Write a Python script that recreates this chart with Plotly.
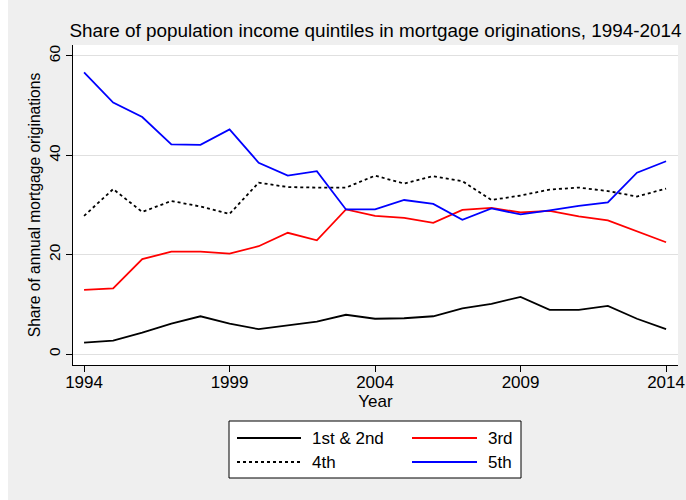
import plotly.graph_objects as go

years = list(range(1994, 2015))
q12 = [2.3, 2.7, 4.3, 6.1, 7.6, 6.1, 5.0, 5.8, 6.5, 7.9, 7.1, 7.2, 7.6, 9.2, 10.1, 11.5, 8.9, 8.9, 9.7, 7.1, 5.0]
q3 = [12.9, 13.2, 19.1, 20.6, 20.6, 20.2, 21.7, 24.4, 22.9, 29.1, 27.8, 27.4, 26.4, 29.0, 29.4, 28.5, 28.8, 27.7, 26.9, 24.7, 22.5]
q4 = [27.8, 33.2, 28.6, 30.8, 29.7, 28.2, 34.5, 33.6, 33.5, 33.5, 35.9, 34.3, 35.8, 34.8, 31.0, 31.9, 33.1, 33.5, 32.8, 31.7, 33.3]
q5 = [56.7, 50.6, 47.7, 42.2, 42.1, 45.2, 38.5, 35.9, 36.8, 29.1, 29.1, 31.0, 30.2, 27.0, 29.3, 28.1, 28.9, 29.8, 30.5, 36.5, 38.8]
x_ticks = [1994, 1999, 2004, 2009, 2014]
y_ticks = [0, 20, 40, 60]
names = ["1st & 2nd", "3rd", "4th", "5th"]

FONT = "Liberation Sans, Arial, sans-serif"
OFFX, OFFY = 8, 0  # page body margin (set below) offsets the figure
W, H = 686 - OFFX, 500 - OFFY
L, R, T, B = 73 - OFFX, 8, 45 - OFFY, 135
PW, PH = W - L - R, H - T - B

series = [(q12, "black", "solid"), (q3, "#FF0000", "solid"), (q4, "black", "dot"), (q5, "#0000FF", "solid")]

fig = go.Figure()
for (vals, col, dash), nm in zip(series, names):
    fig.add_trace(go.Scatter(x=years, y=vals, mode="lines", name=nm, showlegend=False,
                             line=dict(color=col, width=1.8, dash=dash)))

def px2paper(px, py):
    # px, py in window pixels
    return (px - OFFX - L) / PW, (H - B - (py - OFFY)) / PH

shapes = []
annotations = []
# legend box
x0, y0 = px2paper(229, 421)
x1, y1 = px2paper(521, 478)
shapes.append(dict(type="rect", xref="paper", yref="paper", x0=x0, y0=y0, x1=x1, y1=y1,
                   line=dict(color="black", width=1), fillcolor="white", layer="above"))
legend_pos = [(237, 301, 311, 438), (412, 477, 487, 438), (237, 301, 311, 462), (412, 477, 487, 462)]
for (sx0, sx1, tx, ty), (vals, col, dash), nm in zip(legend_pos, series, names):
    a0, b0 = px2paper(sx0, ty)
    a1, _ = px2paper(sx1, ty)
    shapes.append(dict(type="line", xref="paper", yref="paper", x0=a0, y0=b0, x1=a1, y1=b0,
                       line=dict(color=col, width=1.8, dash=dash), layer="above"))
    ta, tb = px2paper(tx, ty)
    annotations.append(dict(xref="paper", yref="paper", x=ta, y=tb, text=nm, showarrow=False,
                            xanchor="left", yanchor="middle", xshift=-1,
                            font=dict(size=17, color="black", family=FONT)))

fig.update_layout(
    template="none",
    width=W, height=H,
    margin=dict(l=L, r=R, t=T, b=B, pad=0),
    paper_bgcolor="#EFEFEF", plot_bgcolor="white",
    font=dict(family=FONT, size=16, color="black"),
    title=dict(text="Share of population income quintiles in mortgage originations, 1994-2014",
               x=0.5, xref="paper", y=1 - (30 - OFFY) / H, yref="container", yanchor="middle", xanchor="center",
               font=dict(size=18.9, color="black", family=FONT)),
    xaxis=dict(range=[1993.62, 2014.41], tickvals=x_ticks, ticks="outside", ticklen=6, tickcolor="black",
               tickwidth=1, showline=True, linecolor="black", linewidth=1, showgrid=False, zeroline=False,
               automargin=False, ticklabelstandoff=-4,
               title=dict(text="Year", standoff=1, font=dict(size=17)), tickfont=dict(size=17)),
    yaxis=dict(range=[-2.21, 62.2], tickvals=y_ticks, ticks="outside", ticklen=6, tickcolor="black",
               tickwidth=1, tickangle=-90, showline=True, linecolor="black", linewidth=1, showgrid=True,
               gridcolor="#E0E0E0", gridwidth=1, zeroline=False, automargin=False,
               title=dict(text="Share of annual mortgage originations", standoff=1, font=dict(size=15.6)),
               tickfont=dict(size=15.5)),
    shapes=shapes, annotations=annotations,
)

fig.write_html("out.html", post_script="document.body.style.margin='0 0 0 8px';")
